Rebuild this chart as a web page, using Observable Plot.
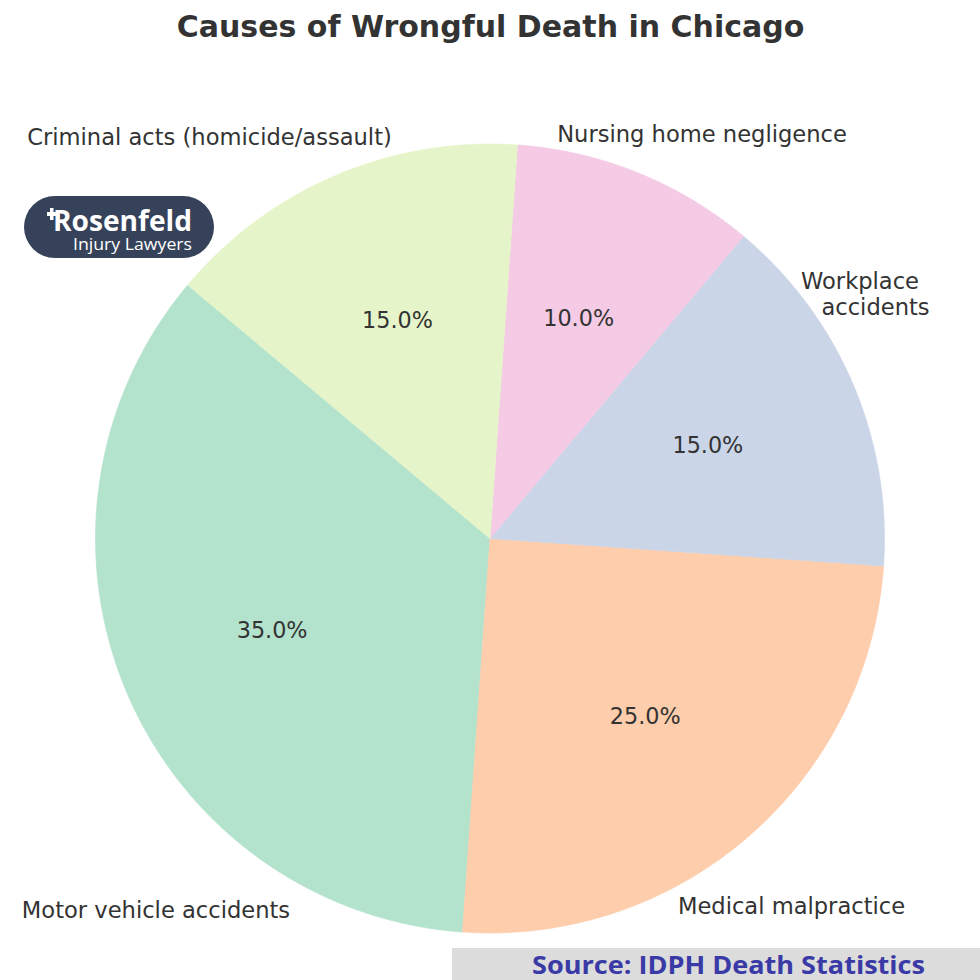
<!DOCTYPE html>
<html><head><meta charset="utf-8">
<script src="https://cdn.jsdelivr.net/npm/d3@7"></script>
<script src="https://cdn.jsdelivr.net/npm/@observablehq/plot@0.6"></script>
<style>
body{margin:0;background:#fff;}
#wrap{position:relative;width:980px;height:980px;overflow:hidden;background:#fff;}
#wrap > svg{position:absolute;left:0;top:0;}
.overlay{position:absolute;left:0;top:0;pointer-events:none;}
</style></head><body><div id="wrap"></div>
<script>
// ---- data ----
const causes = ["Motor vehicle accidents", "Medical malpractice", "Workplace accidents", "Nursing home negligence", "Criminal acts (homicide/assault)"];
const shares = [35, 25, 15, 10, 15];
const palette = ["#b3e2cd", "#fdcdac", "#cbd5e8", "#f4cae4", "#e6f5c9"];
const labelLines = [["Motor vehicle accidents"], ["Medical malpractice"], ["Workplace", "accidents"], ["Nursing home negligence"], ["Criminal acts (homicide/assault)"]];
const title = "Causes of Wrongful Death in Chicago";
const source = "Source: IDPH Death Statistics";

// ---- layout ----
const W = 980, H = 980;
const CX = 489.5, CY = 538, R = 394.5;
const startAngle = 140; // degrees, counterclockwise
const pctDistance = 0.6;
// outer label anchor (pixel centre x, baseline y) per line
const labelLayout = [
  [[155.5, 917]],
  [[791, 913]],
  [[859.5, 288], [875, 314]],
  [[701.5, 141]],
  [[209, 144]]
];
const toX = px => (px - CX) / R;
const toY = py => (CY - py) / R;

// ---- derive wedges ----
const total = d3.sum(shares);
let cum = 0;
const wedges = causes.map((c, i) => {
  const a0 = startAngle + cum / total * 360;
  cum += shares[i];
  const a1 = startAngle + cum / total * 360;
  return {cause: c, share: shares[i], a0, a1, mid: (a0 + a1) / 2};
});
const rad = d => d * Math.PI / 180;
const wedgePts = [];
for (const w of wedges) {
  wedgePts.push({cause: w.cause, x: 0, y: 0});
  const n = Math.max(2, Math.ceil((w.a1 - w.a0) / 0.25));
  for (let k = 0; k <= n; k++) {
    const a = rad(w.a0 + (w.a1 - w.a0) * k / n);
    wedgePts.push({cause: w.cause, x: Math.cos(a), y: Math.sin(a)});
  }
}
const pctData = wedges.map(w => ({
  x: pctDistance * Math.cos(rad(w.mid)),
  y: pctDistance * Math.sin(rad(w.mid)),
  text: w.share.toFixed(1) + "%"
}));
const outerData = [];
labelLines.forEach((lines, i) => lines.forEach((t, j) => {
  const [px, py] = labelLayout[i][j];
  outerData.push({x: toX(px), y: toY(py), text: t});
}));

const chart = Plot.plot({
  width: W, height: H,
  margin: 0,
  x: {domain: [toX(0), toX(W)], range: [0, W], axis: null},
  y: {domain: [toY(H), toY(0)], range: [H, 0], axis: null},
  color: {domain: causes, range: palette},
  style: {fontFamily: "DejaVu Sans", fontSize: "22px", color: "#333", background: "transparent", overflow: "visible"},
  marks: [
    Plot.line(wedgePts, {x: "x", y: "y", z: "cause", fill: "cause", stroke: "cause", strokeWidth: 0.6, curve: "linear-closed"}),
    Plot.text(pctData, {x: "x", y: "y", text: "text", fill: "#333", fontSize: 22.3, lineAnchor: "middle", textAnchor: "middle"}),
    Plot.text(outerData, {x: "x", y: "y", text: "text", fill: "#333", fontSize: 22.6, lineAnchor: "bottom", textAnchor: "middle"}),
    Plot.text([title], {frameAnchor: "top", dy: 36, lineAnchor: "bottom", text: d => d, fontSize: 30, fontWeight: "bold", fill: "#333"})
  ]
});
const wrap = document.getElementById("wrap");
wrap.appendChild(chart);

// ---- overlays: logo and source box ----
const ov = d3.create("svg").attr("class", "overlay").attr("width", W).attr("height", H);
const logo = ov.append("g");
logo.append("rect").attr("x", 24).attr("y", 196).attr("width", 190).attr("height", 62).attr("rx", 31).attr("fill", "#36425a");
const lt = logo.append("text").attr("font-family", "Open Sans").attr("fill", "#fff");
lt.append("tspan").attr("x", 53).attr("y", 231).attr("font-weight", "bold").attr("font-size", 28)
  .attr("textLength", 139).attr("lengthAdjust", "spacingAndGlyphs").text("Rosenfeld");
lt.append("tspan").attr("x", 73).attr("y", 250).attr("font-size", 16.5)
  .attr("textLength", 119).attr("lengthAdjust", "spacingAndGlyphs").text("Injury Lawyers");
logo.append("rect").attr("x", 47).attr("y", 212).attr("width", 10).attr("height", 4).attr("fill", "#fff");
logo.append("rect").attr("x", 50).attr("y", 208).attr("width", 3.5).attr("height", 12).attr("fill", "#fff");
const src = ov.append("g");
src.append("rect").attr("x", 452).attr("y", 948).attr("width", 528).attr("height", 32).attr("fill", "#dcdcdc");
src.append("text").attr("x", 532).attr("y", 974).attr("font-family", "Open Sans").attr("font-weight", "bold").attr("font-size", 25)
  .attr("fill", "#3a3aa6").attr("textLength", 393).attr("lengthAdjust", "spacingAndGlyphs").text(source);
wrap.appendChild(ov.node());
</script>
</body></html>
